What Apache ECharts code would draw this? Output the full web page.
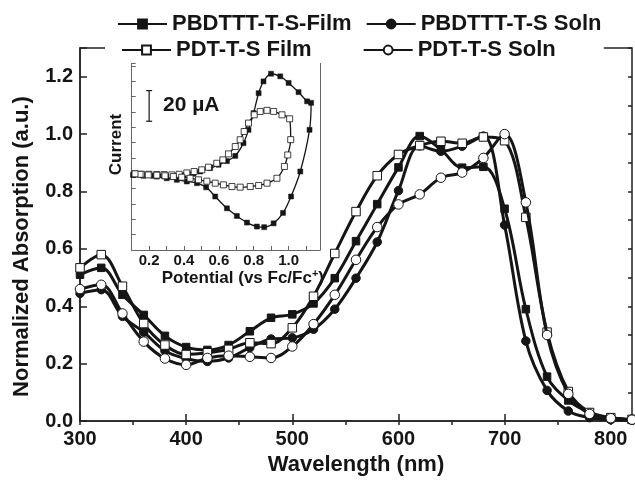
<!DOCTYPE html>
<html><head><meta charset="utf-8">
<script src="https://cdn.jsdelivr.net/npm/echarts@6/dist/echarts.min.js"></script>
<style>html,body{margin:0;padding:0;background:#fff}#c{width:635px;height:481px}</style>
</head><body><div id="c"></div>
<script>
// ---- main spectra (normalized absorption) ----
const wavelengths = [300,320,340,360,380,400,420,440,460,480,500,520,540,560,580,600,620,640,660,680,700,720,740,760,780,800,820];
const pbdtttFilm = [0.51,0.534,0.44,0.37,0.297,0.258,0.248,0.265,0.313,0.36,0.372,0.41,0.498,0.627,0.756,0.884,0.993,0.946,0.883,0.886,0.74,0.39,0.155,0.072,0.03,0.012,0.006];
const pbdtttSoln = [0.445,0.458,0.365,0.31,0.245,0.217,0.208,0.22,0.256,0.286,0.29,0.32,0.39,0.498,0.624,0.803,0.959,0.94,0.958,0.993,0.683,0.279,0.107,0.035,0.012,0.005,0.003];
const pdtFilm = [0.534,0.58,0.47,0.34,0.265,0.232,0.238,0.25,0.273,0.27,0.325,0.435,0.584,0.73,0.855,0.929,0.96,0.975,0.968,0.99,0.977,0.71,0.31,0.103,0.03,0.012,0.006];
const pdtSoln = [0.46,0.475,0.375,0.277,0.218,0.196,0.22,0.228,0.224,0.22,0.26,0.338,0.44,0.562,0.676,0.755,0.79,0.848,0.866,0.917,1.0,0.762,0.30,0.095,0.025,0.01,0.005];
const seriesNames = ['PBDTTT-T-S-Film','PBDTTT-T-S Soln','PDT-T-S Film','PDT-T-S Soln'];
const xTickLabels = [300,400,500,600,700,800];
const yTickLabels = [0.0,0.2,0.4,0.6,0.8,1.0,1.2];

// ---- inset cyclic voltammetry (current in uA, arbitrary offset) ----
const cvPbdtttV = [0.109,0.167,0.224,0.282,0.339,0.397,0.454,0.493,0.55,0.598,0.646,0.694,0.741,0.77,0.799,0.828,0.856,0.899,0.952,1.0,1.057,1.106,1.129,1.12,1.067,1.014,0.968,0.914,0.86,0.818,0.761,0.703,0.646,0.579,0.527,0.474,0.416,0.359,0.301,0.244,0.167,0.109];
const cvPbdtttI = [49,48.6,48.4,48.4,48.4,48.8,49.7,51.2,53.4,55.6,58,61.4,69.7,78.4,89.3,102.3,110,115,113.3,109,103,97,96,78.4,51.2,34.9,24.2,17.4,14.9,15.3,17.9,22.2,27.2,34.9,40.9,43.6,44.7,45.8,46.8,47.9,48.5,49];
const cvPdtV = [0.119,0.157,0.199,0.244,0.286,0.33,0.372,0.416,0.458,0.502,0.54,0.588,0.623,0.655,0.694,0.722,0.745,0.77,0.803,0.837,0.876,0.914,0.962,1.006,1.012,0.995,0.976,0.933,0.876,0.828,0.78,0.722,0.675,0.626,0.579,0.531,0.483,0.435,0.387,0.339,0.291,0.244,0.195,0.148,0.119];
const cvPdtI = [49.7,49.4,49.4,49.2,49.2,49,49.4,50.3,51.2,52.3,54,56.6,58.8,62.7,67.5,71.9,77.3,82.8,88.2,90.4,91.1,90.4,88.2,85.6,72,62,54.5,46.8,43.6,42.1,41.4,41,41.4,42.5,43.6,44.9,45.8,46.8,47.5,47.9,48.4,48.8,49,49.4,49.7];
const insetTickLabels = [0.2,0.4,0.6,0.8,1.0];
const scaleBarV = [0.2,0.2];
const scaleBarI = [84,104];

const FF = '"Liberation Sans", Arial, Helvetica, sans-serif';
const INK = '#151515';
const pairs = (xs, ys) => xs.map((x, i) => [x, ys[i]]);
const near = (v, list) => list.some(t => Math.abs(v - t) < 1e-6);

const symbolDefs = [
  {symbol: 'rect', size: 7.5, fill: INK},
  {symbol: 'circle', size: 8.5, fill: INK},
  {symbol: 'rect', size: 8.5, fill: '#fff'},
  {symbol: 'circle', size: 9.5, fill: '#fff'}
];
const mainData = [pbdtttFilm, pbdtttSoln, pdtFilm, pdtSoln];

const mainSeries = mainData.map((arr, k) => ({
  name: seriesNames[k], type: 'line', xAxisIndex: 0, yAxisIndex: 0,
  data: pairs(wavelengths, arr), smooth: 0.35,
  symbol: symbolDefs[k].symbol, symbolSize: symbolDefs[k].size, showAllSymbol: true,
  lineStyle: {color: INK, width: 3},
  itemStyle: {color: symbolDefs[k].fill, borderColor: INK, borderWidth: 1},
  z: 3 + k
}));

const chart = echarts.init(document.getElementById('c'), null, {renderer: 'canvas'});
chart.setOption({
  animation: false,
  backgroundColor: '#fff',
  textStyle: {fontFamily: FF},
  grid: [
    {left: 80, top: 48, width: 553, height: 378, show: true, borderColor: '#222', borderWidth: 1.5, backgroundColor: 'transparent'},
    {left: 131.7, top: 63, width: 188.3, height: 187}
  ],
  legend: [
    {data: seriesNames.slice(0,2), left: 117, top: 13, padding: 0, itemGap: 14, itemWidth: 49, itemHeight: 11,
     textStyle: {fontFamily: FF, fontSize: 22, fontWeight: 'bold', color: INK}},
    {data: seriesNames.slice(2,4), left: 105, top: 37, padding: [2,48,2,16], itemGap: 51, itemWidth: 49, itemHeight: 11,
     backgroundColor: '#fff', textStyle: {fontFamily: FF, fontSize: 22, fontWeight: 'bold', color: INK}}
  ],
  xAxis: [
    {gridIndex: 0, type: 'value', min: 300, max: 820, interval: 100,
     axisLine: {lineStyle: {color: '#222', width: 1.5}},
     axisTick: {inside: true, length: 7, lineStyle: {color: '#222', width: 1.5}},
     axisLabel: {margin: 8, fontFamily: FF, fontSize: 20, fontWeight: 'bold', color: INK,
       formatter: v => near(v, xTickLabels) ? String(v) : ''},
     splitLine: {show: false},
     name: 'Wavelength (nm)', nameLocation: 'middle', nameGap: 30,
     nameTextStyle: {fontFamily: FF, fontSize: 22, fontWeight: 'bold', color: INK}},
    {gridIndex: 0, type: 'value', min: 300, max: 820, interval: 50,
     axisLine: {show: false}, axisTick: {inside: true, length: 4, lineStyle: {color: '#222', width: 1.5}},
     axisLabel: {show: false}, splitLine: {show: false}},
    {gridIndex: 1, type: 'value', min: 0.1, max: 1.18, interval: 0.1,
     axisLine: {lineStyle: {color: '#666', width: 1}},
     axisTick: {inside: true, length: 4, lineStyle: {color: '#666', width: 1}},
     axisLabel: {margin: 3, fontFamily: FF, fontSize: 15, fontWeight: 'bold', color: INK,
       formatter: v => near(v, insetTickLabels) ? v.toFixed(1) : ''},
     splitLine: {show: false},
     name: 'Potential (vs Fc/Fc{sup|+})', nameLocation: 'middle', nameGap: 17,
     nameTextStyle: {fontFamily: FF, fontSize: 17, fontWeight: 'bold', color: INK, padding: [0,0,0,34],
       rich: {sup: {fontFamily: FF, fontSize: 11, fontWeight: 'bold', color: INK, verticalAlign: 'top', padding: [0,0,8,0]}}}}
  ],
  yAxis: [
    {gridIndex: 0, type: 'value', min: 0, max: 1.3, interval: 0.2,
     axisLine: {show: true, lineStyle: {color: '#222', width: 1.5}},
     axisTick: {show: true, inside: true, length: 7, lineStyle: {color: '#222', width: 1.5}},
     axisLabel: {margin: 7, fontFamily: FF, fontSize: 20, fontWeight: 'bold', color: INK,
       formatter: v => near(v, yTickLabels) ? v.toFixed(1) : ''},
     splitLine: {show: false},
     name: 'Normalized Absorption (a.u.)', nameLocation: 'middle', nameGap: 47,
     nameTextStyle: {fontFamily: FF, fontSize: 22, fontWeight: 'bold', color: INK, padding: [0,24,0,0]}},
    {gridIndex: 0, type: 'value', min: 0, max: 1.3, interval: 0.1,
     axisLine: {show: false}, axisTick: {show: true, inside: true, length: 4, lineStyle: {color: '#222', width: 1.5}},
     axisLabel: {show: false}, splitLine: {show: false}},
    {gridIndex: 1, type: 'value', min: 0, max: 122, interval: 10,
     axisLine: {show: true, lineStyle: {color: '#666', width: 1}},
     axisTick: {show: true, inside: true, length: 4, lineStyle: {color: '#666', width: 1}},
     axisLabel: {show: false}, splitLine: {show: false},
     name: 'Current', nameLocation: 'middle', nameGap: 7,
     nameTextStyle: {fontFamily: FF, fontSize: 17, fontWeight: 'bold', color: INK, padding: [0,0,0,24]}},
    {gridIndex: 1, type: 'value', min: 0, max: 122, position: 'right',
     axisLine: {show: true, lineStyle: {color: '#666', width: 1}},
     axisTick: {show: false}, axisLabel: {show: false}, splitLine: {show: false}}
  ],
  graphic: [
    {type: 'text', left: 163, top: 95, style: {text: '20 \u00b5A', font: 'bold 21px ' + FF, fill: INK}}
  ],
  series: mainSeries.concat([
    {name: 'cvA', type: 'line', xAxisIndex: 2, yAxisIndex: 2, data: pairs(cvPbdtttV, cvPbdtttI), smooth: 0.3,
     symbol: 'rect', symbolSize: 5, showAllSymbol: true, lineStyle: {color: INK, width: 1.3},
     itemStyle: {color: INK, borderColor: INK, borderWidth: 0.5}, z: 3},
    {name: 'cvB', type: 'line', xAxisIndex: 2, yAxisIndex: 2, data: pairs(cvPdtV, cvPdtI), smooth: 0.3,
     symbol: 'rect', symbolSize: 6, showAllSymbol: true, lineStyle: {color: INK, width: 1.3},
     itemStyle: {color: '#fff', borderColor: INK, borderWidth: 0.8}, z: 4},
    {name: 'scale', type: 'line', xAxisIndex: 2, yAxisIndex: 2, data: pairs(scaleBarV, scaleBarI),
     symbol: 'rect', symbolSize: [6, 1.2], lineStyle: {color: INK, width: 1.2}, itemStyle: {color: INK}, z: 5}
  ])
});
</script>
</body></html>
